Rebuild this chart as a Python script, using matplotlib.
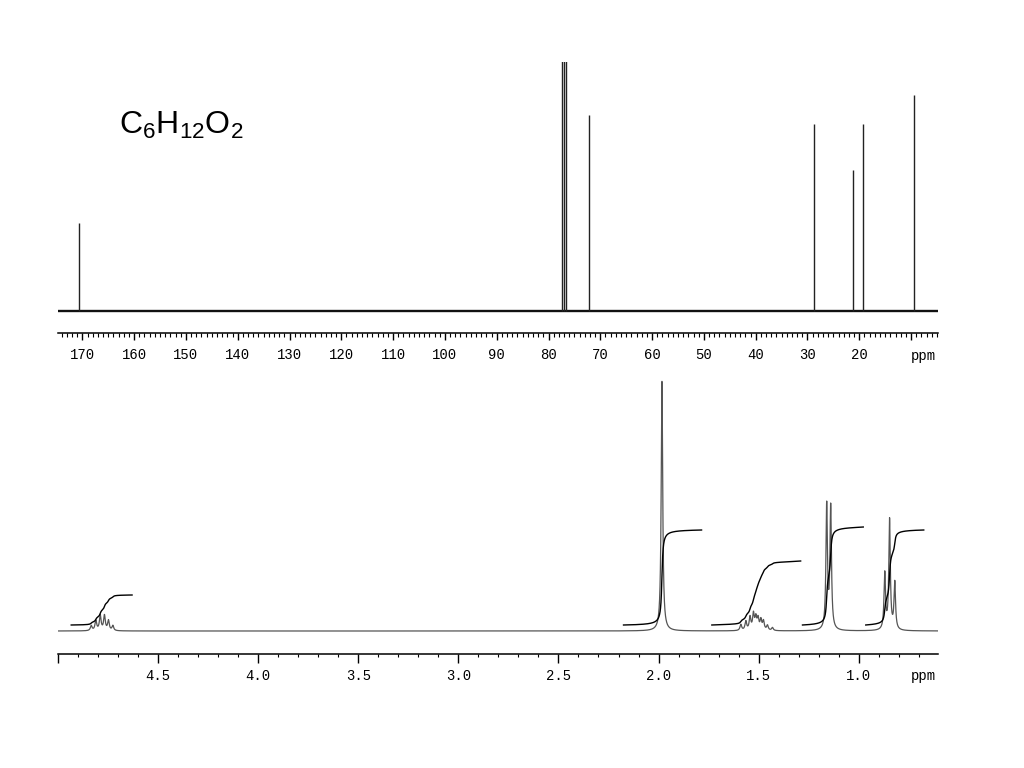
import numpy as np
import matplotlib
matplotlib.use("Agg")
import matplotlib.pyplot as plt
from matplotlib.ticker import MultipleLocator, FixedLocator

# 13C peaks (ppm, height) ; solvent triplet is clipped at the top
c13_shift = [170.6, 72.1, 28.7, 21.2, 19.3, 9.5]
c13_height = [88, 196, 187, 141, 187, 216]
solvent_shift = [77.3, 77.0, 76.7]
solvent_height = [400, 400, 400]

# 1H peaks (ppm, height)
h1_shift = [4.834, 4.811, 4.789, 4.768, 4.748, 4.726,
            1.983,
            1.589, 1.564, 1.543, 1.526, 1.514, 1.503, 1.489, 1.476, 1.456, 1.431,
            1.160, 1.140,
            0.870, 0.846, 0.820]
h1_height = [5, 10, 15, 15, 10, 5,
             250,
             6, 9, 13, 16, 12, 11, 10, 9, 5, 3,
             124, 122,
             56, 110, 47]
h1_width = [0.005] * 6 + [0.0045] + [0.005] * 10 + [0.0045] * 5

# integral regions: (start ppm, end ppm), rise
int_start = [4.934, 2.175, 1.734, 1.281, 0.965]
int_end = [4.630, 1.785, 1.290, 0.977, 0.675]
int_rise = [30, 95, 64, 98, 95]

c13_ticks = list(range(170, 0, -10))
c13_labels = [str(t) for t in c13_ticks[:-1]] + ['']
h1_ticks = [5.0, 4.5, 4.0, 3.5, 3.0, 2.5, 2.0, 1.5, 1.0]
h1_labels = [''] + ['%.1f' % t for t in h1_ticks[1:]]

fig = plt.figure(figsize=(10.24, 7.68), dpi=100)
mono = 'Liberation Mono'


def style_axis(ax, major_len, minor_len, pad):
    for s in ['top', 'left', 'right']:
        ax.spines[s].set_visible(False)
    ax.spines['bottom'].set_linewidth(1.1)
    ax.set_yticks([])
    ax.tick_params(axis='x', which='major', direction='out', length=major_len,
                   width=1.0, pad=pad, labelsize=10)
    ax.tick_params(axis='x', which='minor', direction='out', length=minor_len, width=0.8)
    for lbl in ax.get_xticklabels():
        lbl.set_fontfamily(mono)


# ---- top: 13C ----
ax1 = fig.add_axes([58 / 1024, 1 - 333 / 768, 880 / 1024, 271 / 768])
ax1.set_xlim(174.7, 4.8)
ax1.set_ylim(-22, 249)
ax1.plot([174.5, 5.0], [0, 0], color='#111111', lw=1.7)
ax1.vlines(c13_shift, 0, c13_height, color='#222222', lw=1.0)
ax1.vlines(solvent_shift, 0, solvent_height, color='#222222', lw=1.0)
ax1.xaxis.set_major_locator(FixedLocator(c13_ticks))
ax1.set_xticklabels(c13_labels)
ax1.xaxis.set_minor_locator(MultipleLocator(1))
style_axis(ax1, 5, 3, 6)
fig.text(923 / 1024, 1 - 356 / 768, 'ppm', family=mono, fontsize=10,
         ha='center', va='center')

fig.text(119 / 1024, 1 - 134 / 768, r'$\mathregular{C_6H_{12}O_2}$',
         family='Liberation Sans', fontsize=23, ha='left', va='baseline')

# ---- bottom: 1H ----
ax2 = fig.add_axes([58 / 1024, 1 - 654 / 768, 880 / 1024, 284 / 768])
ax2.set_xlim(5.0, 0.604)
ax2.set_ylim(-23, 261)
x = np.linspace(5.0, 0.6, 12000)
spec = np.zeros_like(x)
for s, h, w in zip(h1_shift, h1_height, h1_width):
    spec += h * w ** 2 / ((x - s) ** 2 + w ** 2)
ax2.plot(x, spec, color='#555555', lw=0.9)

for a, b, r in zip(int_start, int_end, int_rise):
    m = (x <= a) & (x >= b)
    cum = np.cumsum(spec[m])
    cum = cum / cum[-1]
    ax2.plot(x[m], 6 + r * cum, color='black', lw=1.0)

ax2.xaxis.set_major_locator(FixedLocator(h1_ticks))
ax2.set_xticklabels(h1_labels)
ax2.xaxis.set_minor_locator(MultipleLocator(0.1))
style_axis(ax2, 6.5, 2.5, 4)
fig.text(923 / 1024, 1 - 676 / 768, 'ppm', family=mono, fontsize=10,
         ha='center', va='center')

fig.savefig('out.png', dpi=100)
